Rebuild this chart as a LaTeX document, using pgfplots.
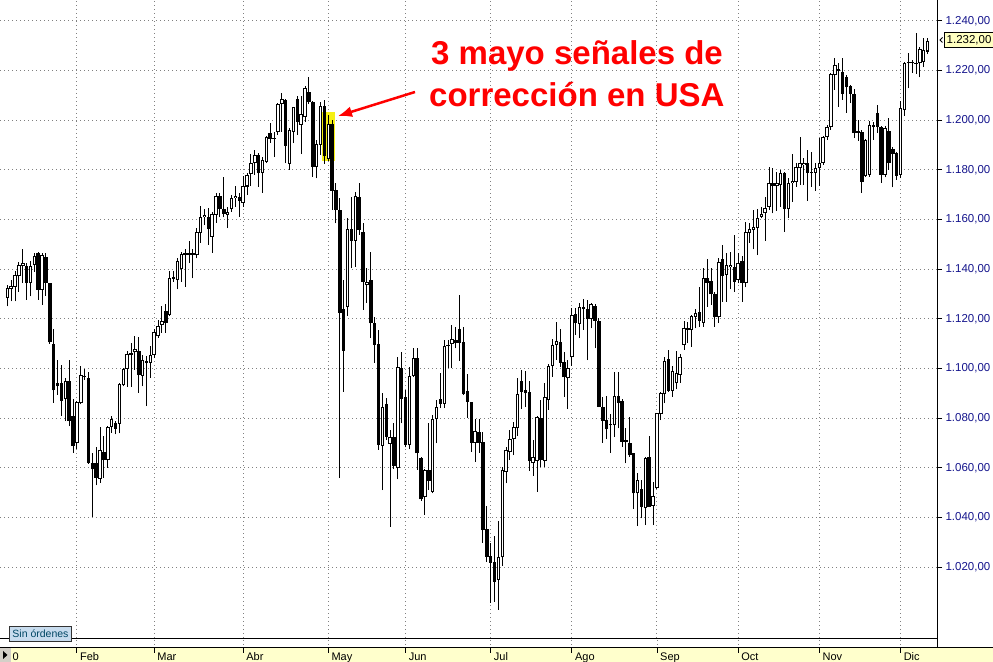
\documentclass[border=0pt]{standalone}
\usepackage{fontspec}
\setmainfont{Liberation Sans}
\usepackage{pgfplots}
\pgfplotsset{compat=1.18}
\usepackage{pgfplotstable}
\usetikzlibrary{arrows.meta}
\definecolor{gridgray}{RGB}{128,128,128}
\definecolor{labelnavy}{RGB}{20,20,140}
\definecolor{bandyellow}{RGB}{255,255,204}
\definecolor{hlyellow}{RGB}{245,240,20}
\definecolor{boxblue}{RGB}{200,220,238}
\definecolor{boxtext}{RGB}{0,70,100}
\definecolor{pricebox}{RGB}{255,255,192}
\definecolor{annred}{RGB}{255,0,0}
\definecolor{btngray}{RGB}{212,208,200}

% daily candles: open high low close
\pgfplotstableread{
o h l c
1128.3 1133.7 1125.0 1132.4
1132.0 1135.7 1127.0 1133.3
1133.0 1139.1 1127.0 1137.7
1137.1 1142.7 1131.0 1141.7
1141.3 1148.0 1134.4 1142.4
1141.3 1142.4 1127.7 1134.4
1134.4 1143.1 1129.0 1141.1
1141.7 1146.7 1139.0 1145.4
1146.4 1147.1 1127.7 1131.7
1131.7 1146.7 1125.7 1145.8
1144.8 1146.4 1129.3 1134.6
1134.4 1134.6 1110.0 1110.5
1109.8 1115.9 1086.1 1091.2
1094.2 1103.3 1089.5 1092.8
1094.2 1101.5 1080.8 1086.8
1087.7 1096.2 1078.8 1094.8
1094.8 1103.6 1076.8 1078.8
1081.0 1087.7 1066.0 1068.7
1070.0 1086.8 1067.6 1086.4
1086.1 1101.1 1085.5 1097.4
1097.1 1099.8 1095.5 1096.6
1096.2 1098.5 1061.7 1062.0
1062.0 1066.0 1040.3 1059.3
1062.0 1068.4 1052.9 1056.0
1055.6 1076.5 1054.0 1067.0
1066.4 1072.7 1056.0 1063.1
1063.3 1077.0 1060.0 1076.5
1076.5 1080.8 1074.1 1079.8
1078.1 1078.8 1073.4 1075.7
1077.8 1094.2 1073.8 1093.9
1093.2 1100.2 1092.8 1099.8
1099.9 1106.9 1092.6 1105.8
1105.5 1110.3 1092.6 1106.2
1106.5 1112.9 1099.5 1107.8
1107.2 1112.7 1090.2 1097.3
1096.9 1105.6 1092.8 1103.6
1103.2 1104.9 1084.8 1102.2
1102.2 1108.9 1096.2 1105.6
1105.6 1115.9 1104.2 1114.7
1112.9 1119.4 1112.3 1117.2
1117.6 1125.0 1114.3 1119.2
1123.2 1126.0 1114.3 1118.3
1121.6 1139.1 1121.2 1136.4
1136.2 1139.1 1135.0 1137.0
1135.6 1144.4 1131.9 1143.4
1139.9 1147.0 1135.0 1146.1
1145.7 1148.0 1133.0 1146.4
1146.5 1151.5 1142.4 1145.7
1146.4 1148.0 1136.3 1145.7
1145.7 1156.5 1144.4 1155.1
1154.7 1165.6 1150.7 1161.2
1160.9 1164.2 1157.8 1161.9
1161.2 1164.6 1149.8 1156.1
1153.1 1163.2 1146.7 1162.3
1161.9 1170.6 1158.8 1169.5
1169.5 1170.6 1160.9 1164.4
1164.2 1177.1 1160.9 1162.3
1161.9 1165.2 1156.5 1163.2
1164.2 1169.9 1163.2 1168.6
1168.6 1173.7 1165.2 1169.5
1169.0 1170.8 1161.2 1167.6
1166.8 1177.6 1165.2 1173.7
1173.3 1178.9 1169.9 1178.0
1178.4 1186.4 1173.5 1182.9
1182.9 1188.1 1178.0 1185.9
1186.0 1186.7 1173.3 1178.7
1178.7 1185.3 1170.8 1184.0
1183.3 1193.7 1182.7 1193.2
1194.8 1198.8 1191.0 1192.6
1192.8 1195.4 1185.1 1192.4
1195.4 1207.1 1194.1 1206.6
1206.6 1210.9 1195.4 1208.5
1208.2 1208.7 1182.7 1189.7
1182.4 1196.8 1180.0 1196.1
1195.4 1205.5 1190.8 1205.3
1208.5 1209.8 1194.1 1199.5
1198.1 1209.8 1186.4 1202.6
1201.2 1213.8 1199.5 1212.9
1211.3 1217.3 1206.5 1207.5
1207.5 1207.9 1177.3 1181.1
1181.3 1192.1 1176.6 1190.3
1190.1 1207.5 1186.0 1205.8
1205.8 1208.2 1182.4 1185.6
1184.3 1202.2 1183.7 1198.5
1198.5 1200.1 1163.9 1171.6
1171.9 1174.6 1158.5 1163.9
1163.9 1168.6 1055.8 1122.5
1123.8 1135.7 1090.6 1107.2
1124.9 1160.5 1121.2 1156.1
1156.1 1169.2 1140.4 1151.5
1151.5 1171.2 1141.0 1169.5
1169.0 1174.6 1153.8 1155.8
1155.1 1158.5 1123.6 1135.0
1133.6 1140.4 1126.3 1135.0
1135.7 1147.1 1112.2 1118.2
1118.2 1120.9 1102.3 1109.5
1109.9 1115.5 1067.2 1069.2
1068.9 1090.0 1051.0 1084.6
1085.7 1088.0 1071.2 1072.5
1069.6 1075.2 1036.2 1072.5
1072.5 1077.9 1059.4 1060.7
1059.8 1104.8 1055.3 1100.7
1100.1 1106.8 1077.9 1087.6
1088.6 1091.3 1068.2 1069.2
1069.2 1100.7 1067.4 1097.0
1097.0 1108.1 1096.7 1104.1
1104.1 1108.1 1059.1 1065.8
1063.8 1064.5 1046.7 1047.3
1048.1 1059.4 1041.0 1059.1
1059.1 1077.9 1051.0 1054.8
1050.4 1081.3 1049.7 1079.5
1079.5 1087.3 1069.8 1084.6
1087.6 1098.1 1084.0 1085.7
1085.7 1111.5 1084.0 1109.1
1109.5 1111.5 1100.1 1109.1
1109.9 1117.5 1100.1 1111.8
1111.5 1116.8 1108.1 1110.2
1115.8 1129.6 1103.1 1110.4
1110.6 1116.8 1089.3 1089.7
1090.9 1097.8 1080.2 1086.6
1086.4 1086.6 1066.5 1070.1
1070.1 1079.5 1062.4 1074.8
1074.3 1079.5 1066.1 1070.1
1070.3 1074.5 1029.8 1034.9
1035.2 1044.6 1022.1 1024.2
1024.4 1029.6 1005.6 1021.7
1021.9 1032.5 1006.0 1014.1
1014.8 1038.5 1002.7 1023.9
1023.9 1060.4 1020.4 1059.1
1058.4 1068.5 1053.7 1067.2
1066.5 1075.2 1063.1 1071.5
1071.5 1078.6 1065.1 1076.5
1075.9 1096.0 1072.8 1089.7
1095.1 1099.4 1083.6 1090.6
1091.3 1099.1 1084.4 1090.0
1090.4 1095.1 1058.8 1062.8
1061.8 1071.2 1056.7 1064.5
1062.8 1080.9 1050.4 1080.6
1079.9 1087.3 1060.4 1063.1
1062.8 1094.3 1060.4 1088.4
1087.3 1101.8 1083.3 1101.0
1101.0 1111.8 1096.7 1109.5
1109.5 1118.9 1103.4 1111.2
1110.8 1115.8 1100.5 1102.3
1102.7 1106.8 1088.6 1096.4
1096.0 1103.4 1083.6 1100.1
1104.5 1124.3 1101.0 1121.6
1122.0 1124.3 1113.5 1118.2
1117.9 1126.3 1112.2 1124.7
1124.7 1127.9 1115.5 1123.9
1123.9 1127.6 1103.4 1119.8
1119.8 1126.5 1116.2 1126.0
1125.2 1126.0 1108.1 1119.3
1119.3 1120.2 1084.4 1084.6
1084.6 1088.6 1070.1 1079.0
1079.2 1088.9 1071.5 1075.5
1077.6 1081.7 1066.1 1077.1
1077.2 1098.7 1072.3 1088.9
1088.9 1098.7 1075.9 1086.0
1086.9 1087.6 1068.5 1070.5
1071.2 1075.9 1061.8 1070.5
1070.1 1080.6 1064.5 1065.1
1065.8 1066.1 1043.3 1049.7
1049.7 1058.0 1036.5 1055.1
1051.3 1055.1 1039.6 1044.3
1043.7 1064.5 1036.9 1063.8
1064.5 1072.8 1044.1 1044.3
1044.6 1054.4 1036.9 1048.6
1051.7 1082.2 1051.3 1081.9
1081.7 1090.6 1079.2 1090.0
1089.7 1104.8 1086.0 1103.1
1103.7 1107.5 1090.6 1091.0
1091.0 1101.0 1088.6 1099.1
1094.0 1107.2 1091.6 1098.1
1097.4 1105.8 1094.2 1104.8
1109.5 1119.3 1107.5 1116.2
1115.5 1118.9 1110.2 1116.2
1115.5 1121.6 1108.8 1121.2
1120.9 1123.8 1116.2 1122.2
1122.9 1132.7 1116.8 1119.3
1118.5 1140.4 1116.8 1136.3
1136.3 1144.0 1124.9 1134.6
1135.4 1140.4 1125.6 1129.9
1129.9 1130.9 1116.8 1120.6
1120.6 1144.4 1118.5 1142.8
1144.0 1149.8 1126.9 1137.3
1137.7 1146.4 1126.9 1141.7
1140.8 1147.1 1131.9 1141.7
1140.8 1153.8 1130.9 1135.0
1135.7 1146.4 1134.3 1142.6
1143.4 1145.3 1126.9 1134.6
1134.6 1159.2 1132.7 1155.1
1154.7 1158.5 1150.7 1156.1
1155.8 1163.9 1148.0 1157.1
1156.5 1164.2 1145.7 1160.5
1161.2 1165.2 1160.5 1162.3
1162.5 1169.0 1151.5 1164.6
1165.2 1181.1 1163.9 1174.6
1174.6 1180.7 1162.5 1173.5
1173.5 1179.3 1163.6 1174.9
1173.9 1180.0 1165.2 1178.7
1178.7 1179.3 1155.1 1164.2
1164.2 1176.6 1160.5 1174.9
1174.6 1186.4 1167.2 1175.7
1175.3 1182.9 1173.3 1181.1
1180.7 1193.2 1173.9 1182.9
1182.0 1184.7 1173.9 1182.9
1182.9 1188.1 1167.6 1178.9
1179.2 1187.4 1173.3 1178.7
1178.9 1182.7 1171.7 1180.7
1180.7 1192.8 1173.5 1182.9
1182.7 1193.7 1182.0 1193.2
1193.2 1198.1 1192.1 1197.4
1197.4 1219.0 1196.1 1218.7
1218.3 1225.0 1212.2 1222.3
1220.6 1223.0 1205.5 1220.0
1219.6 1225.0 1208.2 1210.6
1217.3 1218.3 1203.1 1213.3
1213.8 1214.2 1206.9 1210.6
1210.6 1212.5 1192.8 1194.8
1195.7 1200.1 1191.8 1195.0
1195.4 1196.1 1170.8 1175.3
1177.6 1192.4 1177.3 1192.1
1178.0 1199.9 1177.3 1198.1
1198.1 1199.5 1192.1 1197.2
1202.8 1206.2 1194.8 1197.2
1197.4 1197.7 1174.9 1178.0
1178.0 1197.7 1177.0 1196.8
1195.8 1200.8 1180.0 1182.7
1188.3 1189.4 1173.0 1186.4
1187.0 1187.4 1176.0 1177.6
1178.0 1207.9 1176.6 1204.9
1204.2 1223.6 1201.8 1223.0
1223.0 1227.3 1212.9 1223.6
1223.0 1224.3 1219.2 1223.6
1223.2 1235.1 1218.7 1222.7
1223.0 1229.4 1217.3 1228.6
1223.6 1233.1 1221.4 1228.4
1227.7 1233.1 1226.7 1232.0
}\candles

\begin{document}
\begin{tikzpicture}
\path[use as bounding box] (0,-24bp) rectangle (993bp,638bp);
\begin{axis}[
  at={(0,0)}, anchor=south west,
  scale only axis, width=937bp, height=638bp,
  xmin=-1.888, xmax=240.43, ymin=991.4, ymax=1248.46,
  axis line style={draw=none},
  xtick={18,38,61,83,103,125,146,168,189,210,231},
  xticklabels=\empty,
  xtick style={draw=none},
  ytick={1020,1040,...,1240},
  ytick pos=right, yticklabel pos=right,
  tick align=outside, major tick length=5bp,
  ytick style={black, line width=1bp},
  grid=major,
  grid style={gridgray, line width=1bp, dash pattern=on 1bp off 3bp},
  yticklabel style={font=\fontsize{11.5bp}{13bp}\selectfont, text=labelnavy},
  /pgf/number format/fixed,
  /pgf/number format/fixed zerofill,
  /pgf/number format/precision=2,
  /pgf/number format/1000 sep={.},
  /pgf/number format/dec sep={,},
  /pgf/number format/assume math mode=true,
]
\fill[hlyellow] (axis cs:81.38,1183.6) rectangle (axis cs:84.74,1203.3);
% wicks
\addplot[draw=none, mark=none, forget plot,
  error bars/.cd, y dir=plus, y explicit, error mark=none,
  error bar style={draw=black, line width=1bp}]
  table[x expr=\coordindex, y=l, y error plus expr={\thisrow{h}-\thisrow{l}}] {\candles};
% bodies (outline / filled)
\addplot[draw=none, mark=none, forget plot,
  error bars/.cd, y dir=plus, y explicit, error mark=none,
  error bar style={draw=black, line width=3.5bp}]
  table[x expr=\coordindex, y expr={min(\thisrow{o},\thisrow{c})},
        y error plus expr={max(abs(\thisrow{c}-\thisrow{o}),0.4)}] {\candles};
% hollow interior of rising candles
\addplot[draw=none, mark=none, forget plot,
  error bars/.cd, y dir=plus, y explicit, error mark=none,
  error bar style={draw=white, line width=1.5bp}]
  table[x expr=\coordindex, y expr={\thisrow{o}+0.42},
        y error plus expr={max(\thisrow{c}-\thisrow{o}-0.84,0)}] {\candles};
\end{axis}

\begin{scope}[x=1bp, y=-1bp, shift={(0,638bp)}]
  % frame lines
  \draw[black, line width=1bp] (0,638.5) -- (937,638.5);
  \draw[black, line width=1bp] (937.5,0) -- (937.5,647);
  \foreach \gx in {76.9,154.2,243.2,328.3,405.6,490.7,571.9,657.0,738.2,819.4,900.6}
    \draw[gridgray, line width=1bp, dash pattern=on 1bp off 3bp] (\gx,640) -- (\gx,647);
  % bottom date band
  \fill[bandyellow] (0,647) rectangle (993,662);
  \draw[black, line width=1bp] (0,647.5) -- (993,647.5);
  \foreach \gx/\lab in {76.9/Feb,154.2/Mar,243.2/Abr,328.3/May,405.6/Jun,490.7/Jul,571.9/Ago,657.0/Sep,738.2/Oct,819.4/Nov,900.6/Dic}{
    \draw[black, line width=1bp] (\gx,648) -- (\gx,653);
    \node[anchor=base west, inner sep=0pt, font=\fontsize{11bp}{13bp}\selectfont] at (\gx+3,661) {\lab};
  }
  \node[anchor=base west, inner sep=0pt, font=\fontsize{11bp}{13bp}\selectfont] at (12.5,661) {0};
  \fill[btngray] (0,648) rectangle (11,662);
  \fill[black] (3,651) -- (7.5,655) -- (3,659) -- cycle;
  % orders box
  \draw[fill=boxblue, draw=black!80, line width=1bp] (9.5,626.5) rectangle (71.5,641.5);
  \node[anchor=base, inner sep=0pt, text=boxtext, font=\fontsize{10.5bp}{12bp}\selectfont] at (40.5,637.3) {Sin órdenes};
  % last price box
  \draw[fill=pricebox, draw=black, line width=1bp] (944.5,32.5) rectangle (994,47.5);
  \node[anchor=west, inner sep=0pt, font=\fontsize{11.5bp}{13bp}\selectfont] at (946.5,40) {1.232,00};
  \draw[black, line width=1bp] (942.5,37.5) -- (940,40) -- (942.5,42.5);
  % annotation
  \node[anchor=base west, inner sep=0pt, text=annred, font=\fontsize{33bp}{36bp}\selectfont\bfseries] at (431,64.5) {3 mayo señales de};
  \node[anchor=base west, inner sep=0pt, text=annred, font=\fontsize{33bp}{36bp}\selectfont\bfseries] at (429,106.5) {corrección en USA};
  \draw[annred, line width=2.5bp, -{Latex[length=14bp, width=11bp]}] (415,92) -- (338,116);
\end{scope}
\end{tikzpicture}
\end{document}
